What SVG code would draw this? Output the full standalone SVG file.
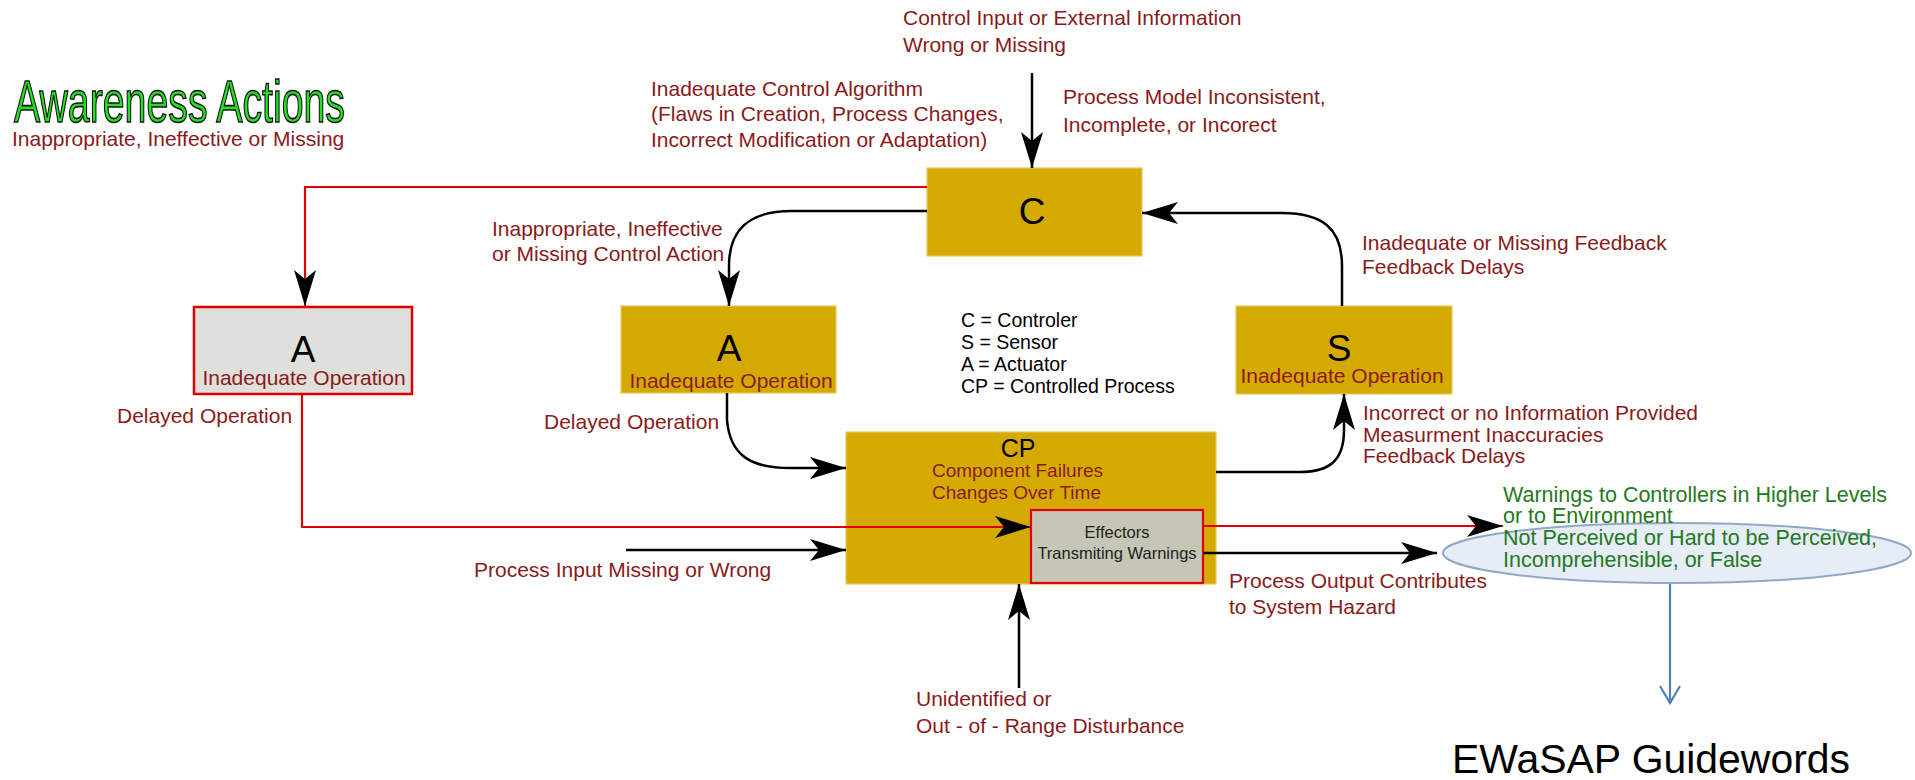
<svg xmlns="http://www.w3.org/2000/svg" width="1915" height="780" viewBox="0 0 1915 780">
<style>
text{font-family:"Liberation Sans",Arial,sans-serif}
.lbl{fill:#8a1a1a;font-size:21px}
.grn{fill:#24791e;font-size:21.5px}
.leg{fill:#000;font-size:19.5px}
.gold{fill:#d4aa00;stroke:#e8c85a;stroke-width:1.2}
.big{font-size:37px;fill:#000;text-anchor:middle}
.blk{fill:none;stroke:#000;stroke-width:2.5}
.red{fill:none;stroke:#e00000;stroke-width:2.2}
</style>
<defs>
<marker id="ah" markerUnits="userSpaceOnUse" viewBox="-38 -12 40 24" markerWidth="40" markerHeight="24" refX="0" refY="0" orient="auto">
<path d="M0,0 L-36,-11 L-27,0 L-36,11 Z" fill="#000"/>
</marker>
<marker id="bh" markerUnits="userSpaceOnUse" viewBox="-20 -12 22 24" markerWidth="22" markerHeight="24" refX="0" refY="0" orient="auto">
<path d="M-17,-10 L0,0 L-17,10" fill="none" stroke="#4f81bd" stroke-width="2.2"/>
</marker>
</defs>
<rect width="1915" height="780" fill="#fff"/>

<g id="title">
<text x="14" y="122" font-size="60" textLength="331" lengthAdjust="spacingAndGlyphs" fill="#22e022" stroke="#111" stroke-width="1.6">Awareness Actions</text>
<text class="lbl" x="12" y="146">Inappropriate, Ineffective or Missing</text>
</g>

<g id="labels">
<text class="lbl" x="903" y="25">Control Input or External Information</text>
<text class="lbl" x="903" y="52">Wrong or Missing</text>
<text class="lbl" x="651" y="96">Inadequate Control Algorithm</text>
<text class="lbl" x="651" y="121">(Flaws in Creation, Process Changes,</text>
<text class="lbl" x="651" y="147">Incorrect Modification or Adaptation)</text>
<text class="lbl" x="1063" y="104">Process Model Inconsistent,</text>
<text class="lbl" x="1063" y="132">Incomplete, or Incorect</text>
<text class="lbl" x="492" y="236">Inappropriate, Ineffective</text>
<text class="lbl" x="492" y="261">or Missing Control Action</text>
<text class="lbl" x="117" y="423">Delayed Operation</text>
<text class="lbl" x="544" y="429">Delayed Operation</text>
<text class="lbl" x="1362" y="250">Inadequate or Missing Feedback</text>
<text class="lbl" x="1362" y="274">Feedback Delays</text>
<text class="lbl" x="1363" y="420">Incorrect or no Information Provided</text>
<text class="lbl" x="1363" y="442">Measurment Inaccuracies</text>
<text class="lbl" x="1363" y="463">Feedback Delays</text>
<text class="lbl" x="474" y="577">Process Input Missing or Wrong</text>
<text class="lbl" x="1229" y="588">Process Output Contributes</text>
<text class="lbl" x="1229" y="614">to System Hazard</text>
<text class="lbl" x="916" y="706">Unidentified or</text>
<text class="lbl" x="916" y="733">Out - of - Range Disturbance</text>
</g>

<g id="legend">
<text class="leg" x="961" y="327">C = Controler</text>
<text class="leg" x="961" y="349">S = Sensor</text>
<text class="leg" x="961" y="371">A = Actuator</text>
<text class="leg" x="961" y="393">CP = Controlled Process</text>
</g>

<g id="node-C">
<rect class="gold" x="927" y="168" width="215" height="88"/>
<text class="big" x="1032" y="224">C</text>
</g>

<g id="node-A-left">
<rect x="194" y="307" width="218" height="87" fill="#dfe0db" stroke="#e00000" stroke-width="2.5"/>
<text class="big" x="303" y="362">A</text>
<text class="lbl" x="304" y="385" text-anchor="middle">Inadequate Operation</text>
</g>

<g id="node-A">
<rect class="gold" x="621" y="306" width="215" height="87"/>
<text class="big" x="729" y="361">A</text>
<text class="lbl" x="731" y="388" text-anchor="middle">Inadequate Operation</text>
</g>

<g id="node-S">
<rect class="gold" x="1236" y="306" width="216" height="88"/>
<text class="big" x="1339" y="361">S</text>
<text class="lbl" x="1342" y="383" text-anchor="middle">Inadequate Operation</text>
</g>

<g id="node-CP">
<rect class="gold" x="846" y="432" width="370" height="152"/>
<text x="1018" y="457" font-size="25" text-anchor="middle" fill="#000">CP</text>
<text x="932" y="477" font-size="19" fill="#8a1a1a">Component Failures</text>
<text x="932" y="499" font-size="19" fill="#8a1a1a">Changes Over Time</text>
</g>

<g id="node-effectors">
<rect x="1031" y="510" width="172" height="73" fill="#c5c6b6" stroke="#e00000" stroke-width="2.2"/>
<text x="1117" y="538" font-size="16.5" text-anchor="middle" fill="#222">Effectors</text>
<text x="1117" y="559" font-size="16.5" text-anchor="middle" fill="#222">Transmiting Warnings</text>
</g>

<g id="node-warnings">
<ellipse cx="1677" cy="553" rx="234" ry="30" fill="#e6edf6" stroke="#8fa8c8" stroke-width="2"/>
<text class="grn" x="1503" y="502">Warnings to Controllers in Higher Levels</text>
<text class="grn" x="1503" y="523">or to Environment</text>
<text class="grn" x="1503" y="545">Not Perceived or Hard to be Perceived,</text>
<text class="grn" x="1503" y="567">Incomprehensible, or  False</text>
</g>

<g id="connectors">
<path class="blk" d="M1032,73 V168" marker-end="url(#ah)"/>
<path class="red" d="M927,187 H305 V306" marker-end="url(#ah)"/>
<path class="blk" d="M927,211 H792 C748,211 729,230 729,266 V306" marker-end="url(#ah)"/>
<path class="blk" d="M1342,306 V266 C1342,228 1322,213 1282,213 H1142" marker-end="url(#ah)"/>
<path class="blk" d="M727,393 V420 C730,455 750,468 790,468 H846" marker-end="url(#ah)"/>
<path class="blk" d="M1216,472 H1300 C1330,472 1344,460 1344,430 V394" marker-end="url(#ah)"/>
<path class="blk" d="M626,550 H846" marker-end="url(#ah)"/>
<path class="blk" d="M1019,688 V584" marker-end="url(#ah)"/>
<path class="red" d="M302,394 V527 H1031" marker-end="url(#ah)"/>
<path class="red" d="M1203,526 H1503" marker-end="url(#ah)"/>
<path class="blk" d="M1203,553 H1437" marker-end="url(#ah)"/>
<path d="M1670,584 V703" fill="none" stroke="#4f81bd" stroke-width="2.2" marker-end="url(#bh)"/>
</g>

<g id="guidewords">
<text x="1452" y="773" font-family="'Open Sans','Noto Sans',sans-serif" font-size="40" textLength="398" lengthAdjust="spacingAndGlyphs" fill="#000">EWaSAP Guidewords</text>
</g>
</svg>
